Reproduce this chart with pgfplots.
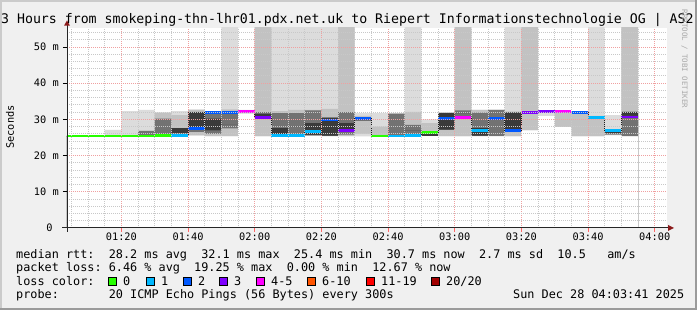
\documentclass[border=0pt]{standalone}
\usepackage{pgfplots}
\pgfplotsset{compat=1.18}
\usepackage{pgfplotstable}
\usepackage{fontspec}
\setmainfont{DejaVu Sans Mono}
\frenchspacing
\definecolor{bgc}{HTML}{F0F0F0}
\definecolor{shadea}{HTML}{CBCBCB}
\definecolor{shadeb}{HTML}{9B9B9B}
\definecolor{Lone}{HTML}{DCDCDC}
\definecolor{Ltwo}{HTML}{C2C2C2}
\definecolor{Lthree}{HTML}{727272}
\definecolor{Lfour}{HTML}{3A3A3A}
\definecolor{lz}{HTML}{26FF00}
\definecolor{lone}{HTML}{00B8FF}
\definecolor{ltwo}{HTML}{0059FF}
\definecolor{lthree}{HTML}{7E00FF}
\definecolor{lfour}{HTML}{FF00FF}
\definecolor{lsix}{HTML}{FF5500}
\definecolor{leleven}{HTML}{FF0000}
\definecolor{ltwenty}{HTML}{A10000}
\definecolor{mgrid}{HTML}{F0A0A0}
\definecolor{ngrid}{HTML}{C8C8C8}
\definecolor{arrowc}{HTML}{8B1A1A}
\definecolor{wm}{HTML}{A8A8A8}

% smoke layers per 5-minute bin (t = minutes after 01:00), nested: loa<=lob<=loc<=lod<=hid<=hic<=hib<=hia
\pgfplotstableread{
t   hia  hib  hic  hid  lod  loc  lob  loa  med
0   25.4 25.4 25.4 25.4 25.4 25.4 25.4 25.4 25.4
5   25.4 25.4 25.4 25.4 25.4 25.4 25.4 25.4 25.4
10  25.4 25.4 25.4 25.4 25.4 25.4 25.4 25.4 25.4
15  27.1 25.4 25.4 25.4 25.4 25.4 25.4 25.4 25.4
20  32.3 25.4 25.4 25.4 25.4 25.4 25.4 25.4 25.4
25  32.6 26.8 26.8 25.4 25.4 25.4 25.4 25.4 25.4
30  32.0 31.7 30.2 25.6 25.6 25.4 25.4 25.4 25.6
35  32.3 31.2 27.6 27.6 26.2 25.5 25.3 25.3 25.5
40  32.8 32.6 32.1 32.0 27.5 26.5 25.6 25.5 27.4
45  32.3 32.1 31.8 30.2 27.0 26.0 25.4 25.3 31.9
50  56   32.8 31.7 28.5 28.5 27.5 25.4 25.3 31.9
55  32.6 32.1 32.1 32.1 32.1 32.1 32.1 31.5 32.1
60  56   56   32.0 31.5 30.6 30.4 25.3 25.3 30.6
65  56   32.3 31.7 27.6 25.5 25.4 25.4 25.4 25.5
70  56   32.6 31.7 28.0 28.0 25.4 25.4 25.4 25.5
75  56   32.6 32.5 29.0 25.7 25.6 25.4 25.4 26.6
80  56   32.9 30.5 30.5 25.5 25.4 25.4 25.3 29.8
85  56   56   32.0 29.0 26.5 25.8 25.4 25.3 26.9
90  31.7 31.0 30.5 30.4 29.8 29.5 26.0 25.3 30.2
95  31.7 28.0 25.4 25.4 25.4 25.4 25.4 25.3 25.4
100 31.7 31.7 31.5 25.4 25.4 25.4 25.4 25.4 25.4
105 56   32.1 28.5 27.0 27.0 25.5 25.4 25.4 25.6
110 30.0 29.0 26.4 26.4 25.4 25.4 25.4 25.4 26.4
115 32.0 31.9 31.7 31.7 27.1 27.1 25.4 25.3 30.2
120 56   56   32.5 31.5 31.5 30.6 25.3 25.3 30.6
125 32.6 32.6 31.9 27.6 25.5 25.4 25.4 25.3 26.9
130 32.6 32.6 32.6 25.4 25.4 25.4 25.4 25.3 30.2
135 56   32.2 32.0 31.9 26.9 26.8 25.3 25.3 26.9
140 56   56   32.0 32.0 32.0 32.0 27.0 27.0 32.0
145 32.3 32.1 32.1 32.1 32.1 32.1 32.1 30.9 32.1
150 32.3 31.7 31.7 31.7 31.7 31.7 27.9 27.9 32.1
155 32.3 31.7 31.7 31.7 31.7 31.7 25.3 25.3 32.0
160 56   31.0 30.6 30.6 30.6 30.6 25.3 25.3 30.6
165 31.2 27.2 27.0 26.9 26.2 25.8 25.7 25.6 26.9
170 56   56   32.1 32.1 31.0 25.3 25.3 25.3 30.7
175 56   56   32.1 32.1 31.0 25.3 25.3 25.3 30.7
}\smoke

\begin{document}
\begin{tikzpicture}
\begin{scope}[x=1pt,y=1pt]
\useasboundingbox (0,0) rectangle (697,310);
\clip (0,0) rectangle (697,310);
\fill[bgc] (0,0) rectangle (697,310);
\fill[shadea] (0,308) rectangle (697,310);
\fill[shadea] (0,0) rectangle (2,310);
\fill[shadeb] (0,0) rectangle (697,2);
\fill[shadeb] (695,0) rectangle (697,310);
\end{scope}

\begin{axis}[
  at={(67pt,82pt)}, anchor=south west,
  width=600pt, height=200pt, scale only axis,
  xmin=3.6833, xmax=183.6833, ymin=0, ymax=55.25,
  axis on top,
  axis background/.style={fill=white},
  axis line style={draw=none},
  tick pos=left,
  xtick={20,40,60,80,100,120,140,160,180},
  xticklabels={01:20,01:40,02:00,02:20,02:40,03:00,03:20,03:40,04:00},
  minor xtick={5,10,15,25,30,35,45,50,55,65,70,75,85,90,95,105,110,115,125,130,135,145,150,155,165,170,175},
  ytick={0,10,20,30,40,50},
  yticklabels={0~~,10 m,20 m,30 m,40 m,50 m},
  minor ytick={2,4,6,8,12,14,16,18,22,24,26,28,32,34,36,38,42,44,46,48,52,54},
  xmajorgrids, xminorgrids, ymajorgrids, yminorgrids,
  major grid style={mgrid, line width=1pt, dash pattern=on 1pt off 1pt},
  minor grid style={ngrid, line width=1pt, dash pattern=on 1pt off 1pt},
  tick align=outside,
  major tick length=4pt, minor tick length=0pt,
  xtick style={color=red!60, line width=1pt},
  ytick style={color=black, line width=1pt},
  tick label style={font=\fontsize{10.3}{12}\selectfont, text=black},
  xticklabel style={anchor=base, inner sep=0pt, yshift=-9pt},
  yticklabel style={anchor=east, inner sep=0pt, xshift=-4pt},
]
% smoke (painted from the outermost band inwards)
\addplot[draw=none, fill=Lone,   const plot] table[x=t, y=hia] {\smoke} \closedcycle;
\addplot[draw=none, fill=Ltwo,   const plot] table[x=t, y=hib] {\smoke} \closedcycle;
\addplot[draw=none, fill=Lthree, const plot] table[x=t, y=hic] {\smoke} \closedcycle;
\addplot[draw=none, fill=Lfour,  const plot] table[x=t, y=hid] {\smoke} \closedcycle;
\addplot[draw=none, fill=Lthree, const plot] table[x=t, y=lod] {\smoke} \closedcycle;
\addplot[draw=none, fill=Ltwo,   const plot] table[x=t, y=loc] {\smoke} \closedcycle;
\addplot[draw=none, fill=Lone,   const plot] table[x=t, y=lob] {\smoke} \closedcycle;
\addplot[draw=none, fill=white,  const plot] table[x=t, y=loa] {\smoke} \closedcycle;
% thin median line
\addplot[const plot, draw=black!88, line width=1pt] table[x=t, y=med] {\smoke};
% median coloured by packet loss
\addplot[lz, line width=2.7pt, quiver={u=5, v=0}] coordinates {
 (0,25.4) (5,25.4) (10,25.4) (15,25.4) (20,25.4) (25,25.4) (30,25.6) (95,25.4) (110,26.4)};
\addplot[lone, line width=2.7pt, quiver={u=5, v=0}] coordinates {
 (35,25.5) (65,25.5) (70,25.5) (75,26.6) (100,25.4) (105,25.6) (125,26.9) (160,30.6) (165,26.9)};
\addplot[ltwo, line width=2.7pt, quiver={u=5, v=0}] coordinates {
 (40,27.4) (45,31.9) (50,31.9) (80,29.8) (90,30.2) (115,30.2) (130,30.2) (135,26.9) (155,32.0)};
\addplot[lthree, line width=2.7pt, quiver={u=5, v=0}] coordinates {
 (60,30.6) (85,26.9) (140,32.0) (145,32.1) (170,30.7)};
\addplot[lfour, line width=2.7pt, quiver={u=5, v=0}] coordinates {
 (55,32.1) (120,30.6) (150,32.1)};
\end{axis}

\begin{scope}[x=1pt,y=1pt]
\clip (0,0) rectangle (697,310);
% axes with arrows
\draw[black!85, line width=1pt] (62,82) -- (669,82);
\draw[black!85, line width=1pt] (67,78) -- (67,285);
\fill[arrowc] (64,284.3) -- (70,284.3) -- (67,289.5) -- cycle;
\fill[arrowc] (668,79) -- (668,85) -- (674,82) -- cycle;
% title
\node[anchor=base west, inner sep=0pt, font=\fontsize{13.22}{16}\selectfont] at (1,286)
  {3 Hours from smokeping-thn-lhr01.pdx.net.uk to Riepert Informationstechnologie OG | AS2};
% unit label and watermark
\node[rotate=90, inner sep=0pt, font=\fontsize{10.3}{12}\selectfont] at (10,183) {Seconds};
\node[rotate=-90, inner sep=0pt, font=\fontsize{7.4}{9}\selectfont, text=wm] at (684.5,251) {RRDTOOL / TOBI OETIKER};
% legend
\begin{scope}[every node/.style={anchor=base west, inner sep=0pt, font=\fontsize{11.83}{14}\selectfont}]
\node at (16,51.5) {median rtt:~~28.2 ms avg~~32.1 ms max~~25.4 ms min~~30.7 ms now~~2.7 ms sd~~10.5~~~am/s};
\node at (16,38) {packet loss:~6.46 \% avg~~19.25 \% max~~0.00 \% min~~12.67 \% now};
\node at (16,24.5) {loss color:};
\node at (16,11) {probe:~~~~~~~20 ICMP Echo Pings (56 Bytes) every 300s};
\node at (513,11) {Sun Dec 28 04:03:41 2025};
\node at (123,24.5) {0};
\node at (161,24.5) {1};
\node at (198,24.5) {2};
\node at (234,24.5) {3};
\node at (271,24.5) {4-5};
\node at (322,24.5) {6-10};
\node at (381,24.5) {11-19};
\node at (446,24.5) {20/20};
\end{scope}
\filldraw[fill=lz,      draw=black, line width=1pt] (108.5,24) rectangle (116.5,32);
\filldraw[fill=lone,    draw=black, line width=1pt] (146,24) rectangle (154,32);
\filldraw[fill=ltwo,    draw=black, line width=1pt] (183,24) rectangle (191,32);
\filldraw[fill=lthree,  draw=black, line width=1pt] (219.5,24) rectangle (227.5,32);
\filldraw[fill=lfour,   draw=black, line width=1pt] (256,24) rectangle (264,32);
\filldraw[fill=lsix,    draw=black, line width=1pt] (307,24) rectangle (315,32);
\filldraw[fill=leleven, draw=black, line width=1pt] (366,24) rectangle (374,32);
\filldraw[fill=ltwenty, draw=black, line width=1pt] (431,24) rectangle (439,32);
\end{scope}
\end{tikzpicture}
\end{document}
